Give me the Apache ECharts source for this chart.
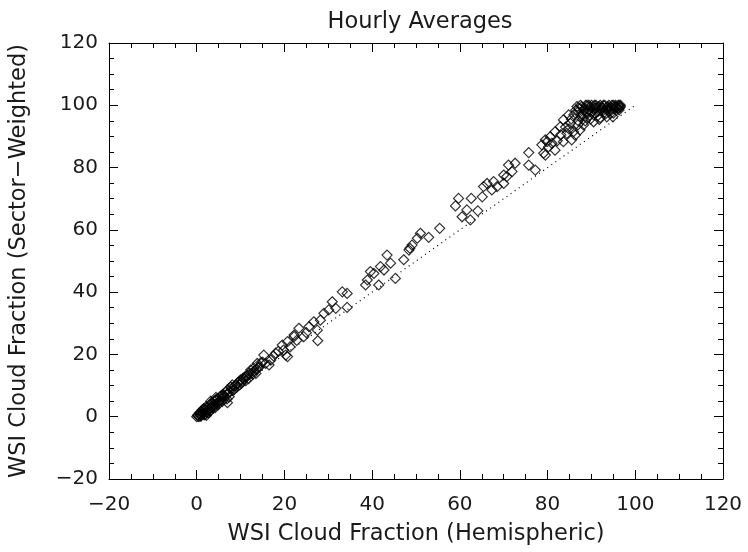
<!DOCTYPE html>
<html><head><meta charset="utf-8">
<script src="https://cdn.jsdelivr.net/npm/echarts@6/dist/echarts.min.js"></script>
<style>html,body{margin:0;padding:0;background:#fff}#c{width:748px;height:552px}</style>
</head><body><div id="c"></div>
<script>
var title = "Hourly Averages";
var xName = "WSI Cloud Fraction (Hemispheric)";
var yName = "WSI Cloud Fraction (Sector\u2212Weighted)";
var tickLabels = [-20, 0, 20, 40, 60, 80, 100, 120];
var hemispheric = [
0,0.2,0.5,0.8,1,1,1.3,1.5,1.8,2,2,2.3,2.5,2.8,3,3,3.3,3.5,3.8,4,4,4.3,4.5,4.8,5,5.3,5.5,5.9,6,6.3,6.6,7,7,7.4,7.6,8,8.1,8.5,9,9.2,9.6,10,10.2,10.6,11,11.2,11.6,12,12.3,12.8,13.2,13.8,13.5,14.3,15,15.3,15.7,16.5,16.9,17.5,18,18.6,19.5,19.8,20.3,20.7,20.7,21.3,22.2,22.2,22.8,
0.3,0.6,0.9,1.2,1.6,1.7,2.1,2.4,2.7,3.1,3.4,3.6,3.9,4.2,4.6,4.9,5.2,5.6,5.8,6.2,6.8,7.2,7.8,8.3,8.8,9.4,9.8,10.4,10.8,11.4,11.8,12.5,13,13.6,14,14.6,3.2,2.2,4.4,6.9,
23.3,24.4,25,25.6,26.7,27.5,27.6,28.2,29,30.1,30.9,31.7,33.2,34.3,34.3,38.5,38.9,39.6,40.4,41.5,41.9,42.7,43.4,44.2,45.3,47.2,48.4,48.6,49.1,50.3,51,52.9,55.4,59,59.7,60.5,61.6,62.4,62.6,64.1,65.1,65.4,66.2,67.3,67.7,68.5,70,70,70.7,71.1,71.9,72.6,75.7,77.2,75.7,79.5,78.7,79.9,
79.1,79.5,80.6,81,81.7,81.7,82.9,83.6,83.6,84.4,84.8,85.2,85.5,85.9,86.7,87.4,88.2,87,87.5,88,88.5,89,89,89.5,90,90.5,90.5,91,91,91.5,92,92,92.5,93,93.5,93.5,94,94.5,95,95,95.5,96,96.3,96.3,96.6,96.6,88,86,87,
87.2,87.8,88.3,88.7,89.2,89.7,90.2,90.7,91.2,91.7,92.2,92.7,93.2,93.7,94.2,94.7,95.2,95.7,96.1,89.4,90.8,92.4,93.9,95.4,96.4,88.9,91.4,94.4,86.4,87.7,86.9,88.6,89.8,91.8,93,94.9,85.4,84.1,84.9,86.3,83,82.2,80.2
];
var sectorWeighted = [
0,0.5,0,0.8,0.3,1.5,2.2,1,1.8,0.8,2.5,1.5,3,2.2,3.8,1.8,3,4.2,2.8,5,3.5,5.4,4,5.8,4.6,6.3,5.2,6.4,7.2,5.8,7.8,8.6,4.5,6.4,8,9.2,10.2,8.8,10.4,9.6,11.2,11.8,10.8,12.4,12.8,11.6,13.4,14,15,13.6,14.8,17.1,13.9,16,17.5,19.8,17.1,16.6,18.2,19.5,20.4,21,23,21.4,19.8,24.1,19.3,22.4,26.2,25.7,24.5,
0.3,1.2,0.2,0.9,2.6,0.6,3.2,2,1.2,2.7,4.6,3.3,4.1,2.9,5.6,3.9,5.2,6.8,4.8,6.6,7.1,7.6,9.6,8.4,9.9,10.8,10.2,11.4,12,12.9,12.2,13.9,15.6,15.1,15.8,17.3,5,0.4,6.2,5.7,
28.4,25.7,27,28.9,30.5,27.8,24.4,31,33.2,34.3,36.9,34.8,40.1,39.6,35.1,42.3,43.9,46.6,46,42.3,48.2,47.1,51.9,49.3,44.4,50.4,53.5,54.1,55.1,57.3,58.9,57.6,60.5,67.7,70.1,64.2,66.4,63.2,70.1,66.1,70.6,73.9,74.9,72.8,75.5,73.9,74.9,77.6,77.1,80.8,78.7,81.4,80.8,79.2,84.8,84,87.3,88.3,
84.6,88.9,89.9,87.8,85.6,91.5,93.1,95.3,88.3,91,96.9,94.2,88.9,91.5,99.6,92.1,93.7,98,100,97,99,100,96,98.5,100,94.7,97,99,100,98,100,96,99,100,96.3,98.5,100,99,100,97.5,100,99,98.5,100,99.5,100,95.5,97,95,
99,99.5,98.3,100,97.5,99.4,98,100,97.8,99.6,98.4,100,97.2,99.6,98,100,98.8,99.3,100,100,99.2,99.4,99,99.6,99.2,97.9,96.6,97.4,98.4,96.5,93.7,95,95.6,95.5,97.8,96.3,95.6,93,92.4,90.4,90.5,88.6,86.6
];
var identityX = [0, 100];
var identityY = [0, 100];

var pts = hemispheric.map(function(v,i){return [v, sectorWeighted[i]];});
var chart = echarts.init(document.getElementById('c'));
var font = 'DejaVu Sans';
var txt = '#1a1a1a';
function fmt(v){ return String(v).replace('-', '\u2212'); }
function axisCommon(show){
  return {
    type:'value', min:-20, max:120, interval:20,
    axisLine:{show:true,onZero:false,lineStyle:{color:'#000',width:1}},
    axisTick:{show:true,inside:true,length:9,lineStyle:{color:'#000'}},
    minorTick:{show:true,splitNumber:4,length:5,lineStyle:{color:'#000'}},
    splitLine:{show:false},
    axisLabel:{show:show,color:txt,fontFamily:font,fontSize:20,formatter:fmt}
  };
}
var xa = axisCommon(true);
xa.name = xName; xa.nameLocation='middle'; xa.nameGap=44;
xa.nameTextStyle={color:txt,fontFamily:font,fontSize:22.5};
xa.axisLabel.margin=16;
var xb = axisCommon(false); xb.position='top';
var ya = axisCommon(true);
ya.name = yName; ya.nameLocation='middle'; ya.nameGap=78;
ya.nameTextStyle={color:txt,fontFamily:font,fontSize:22.5};
ya.axisLabel.margin=11;
var yb = axisCommon(false); yb.position='right';

chart.setOption({
  animation:false,
  title:{text:title,left:415,top:6,textAlign:'center',textStyle:{color:txt,fontFamily:font,fontSize:22.5,fontWeight:'normal'}},
  grid:{left:108,right:25,top:43,bottom:73},
  xAxis:[xa,xb],
  yAxis:[ya,yb],
  series:[
    {type:'line',xAxisIndex:0,yAxisIndex:0,data:identityX.map(function(v,i){return [v,identityY[i]];}),
     symbol:'none',lineStyle:{color:'#000',width:1.2,type:[1,4]}},
    {type:'scatter',xAxisIndex:0,yAxisIndex:0,data:pts,symbol:'diamond',symbolSize:10,
     itemStyle:{color:'rgba(0,0,0,0)',borderColor:'#000',borderWidth:1.2}}
  ]
});
</script></body></html>
